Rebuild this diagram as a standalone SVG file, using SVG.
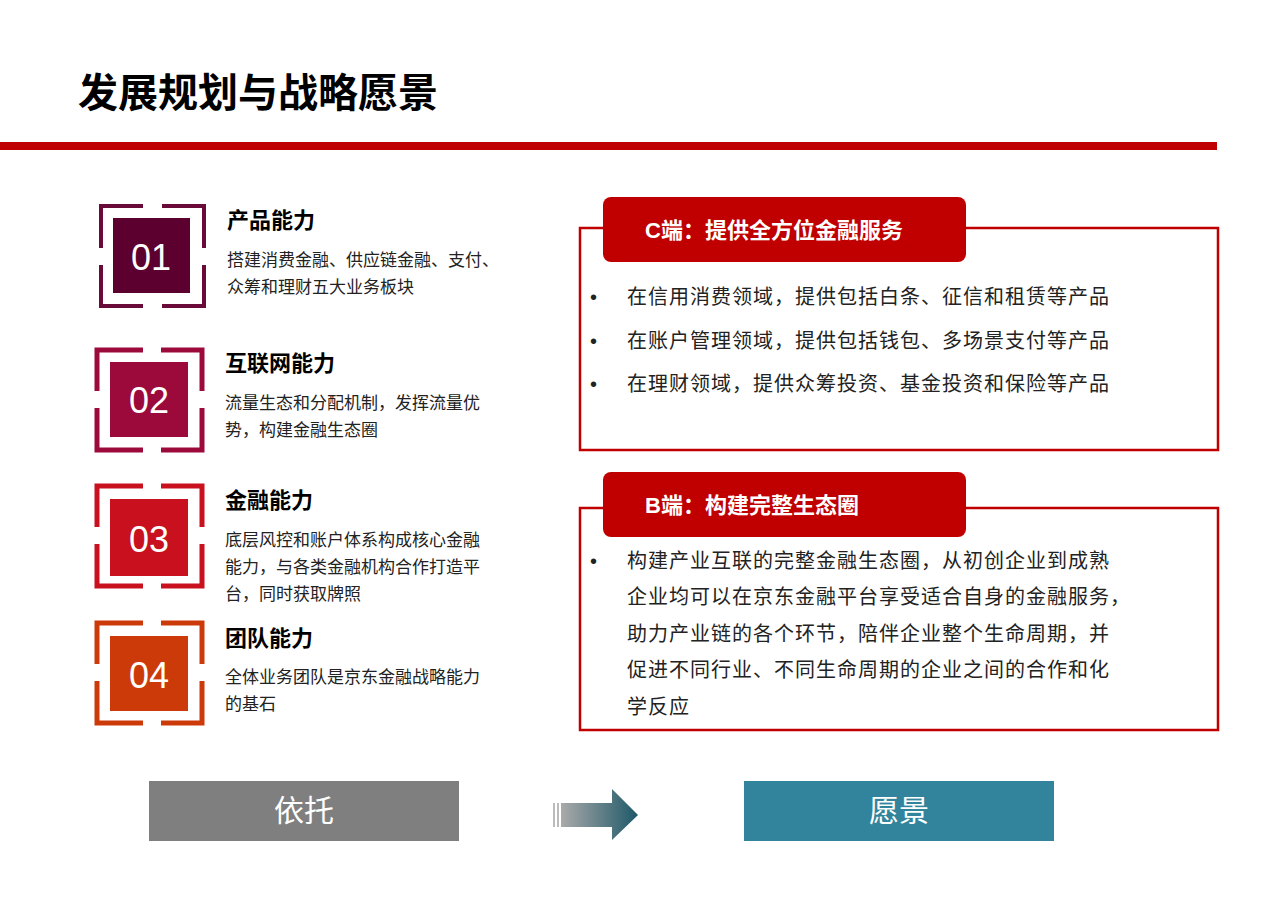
<svg xmlns="http://www.w3.org/2000/svg" width="1280" height="904" viewBox="0 0 1280 904">
<defs>
<style>
text{font-family:"Liberation Sans","Noto Sans CJK SC",sans-serif;}
.h{font-size:22px;font-weight:bold;fill:#000;}
.d{font-size:17px;fill:#222;}
.n{font-size:36px;fill:#fff;text-anchor:middle;}
.b{font-size:20px;fill:#222;letter-spacing:1px;}
.frame{fill:none;stroke:#c00000;stroke-width:2.5;}
.tab{fill:#c00000;}
.tt{font-size:22px;font-weight:bold;fill:#fff;}
</style>
<linearGradient id="ag" x1="0" x2="1" y1="0" y2="0">
<stop offset="0" stop-color="#aaaaaa"/><stop offset="1" stop-color="#1e5868"/>
</linearGradient>
</defs>
<rect width="1280" height="904" fill="#fff"/>
<text x="78" y="107" style="font-size:40px;font-weight:bold;fill:#000">发展规划与战略愿景</text>
<rect x="0" y="142" width="1217" height="8" fill="#c00000"/>

<g id="n01" stroke="#6a0a38" stroke-width="4" fill="none">
<path d="M101 248V206H143M162 206H204V248M204 265V306H162M143 306H101V265"/>
<rect x="113" y="218" width="77" height="75" fill="#5c0030" stroke="none"/>
<text class="n" x="151" y="270" stroke="none">01</text>
</g>
<g id="n02" stroke="#9b0a3a" stroke-width="5" fill="none">
<path d="M97 391V350H143M161 350H202V391M202 408V450H161M143 450H97V408"/>
<rect x="110" y="362" width="78" height="75" fill="#9b0a3a" stroke="none"/>
<text class="n" x="149" y="413" stroke="none">02</text>
</g>
<g id="n03" stroke="#c8101e" stroke-width="5" fill="none">
<path d="M97 527V486H143M161 486H202V527M202 544V586H161M143 586H97V544"/>
<rect x="110" y="499" width="78" height="77" fill="#c8101e" stroke="none"/>
<text class="n" x="149" y="552" stroke="none">03</text>
</g>
<g id="n04" stroke="#cc3a0a" stroke-width="5" fill="none">
<path d="M97 664V623H143M161 623H202V664M202 681V723H161M143 723H97V681"/>
<rect x="110" y="636" width="78" height="75" fill="#cc3a0a" stroke="none"/>
<text class="n" x="149" y="688" stroke="none">04</text>
</g>

<g id="t1"><text class="h" x="227" y="228">产品能力</text>
<text class="d" x="227" y="266">搭建消费金融、供应链金融、支付、</text>
<text class="d" x="227" y="293">众筹和理财五大业务板块</text></g>
<g id="t2"><text class="h" x="225" y="371">互联网能力</text>
<text class="d" x="225" y="409">流量生态和分配机制，发挥流量优</text>
<text class="d" x="225" y="436">势，构建金融生态圈</text></g>
<g id="t3"><text class="h" x="225" y="508">金融能力</text>
<text class="d" x="225" y="546">底层风控和账户体系构成核心金融</text>
<text class="d" x="225" y="573">能力，与各类金融机构合作打造平</text>
<text class="d" x="225" y="600">台，同时获取牌照</text></g>
<g id="t4"><text class="h" x="225" y="646">团队能力</text>
<text class="d" x="225" y="683">全体业务团队是京东金融战略能力</text>
<text class="d" x="225" y="710">的基石</text></g>

<g id="c">
<rect class="frame" x="580" y="228" width="638" height="222"/>
<rect class="tab" x="603" y="197" width="363" height="65" rx="8"/>
<text class="tt" x="645" y="238">C端：提供全方位金融服务</text>
<text class="b" x="590" y="304">•</text><text class="b" x="627" y="304">在信用消费领域，提供包括白条、征信和租赁等产品</text>
<text class="b" x="590" y="348">•</text><text class="b" x="627" y="348">在账户管理领域，提供包括钱包、多场景支付等产品</text>
<text class="b" x="590" y="391">•</text><text class="b" x="627" y="391">在理财领域，提供众筹投资、基金投资和保险等产品</text>
</g>
<g id="b">
<rect class="frame" x="580" y="508" width="638" height="222"/>
<rect class="tab" x="603" y="472" width="363" height="65" rx="8"/>
<text class="tt" x="645" y="513">B端：构建完整生态圈</text>
<text class="b" x="590" y="568">•</text><text class="b" x="627" y="568">构建产业互联的完整金融生态圈，从初创企业到成熟</text>
<text class="b" x="627" y="604">企业均可以在京东金融平台享受适合自身的金融服务，</text>
<text class="b" x="627" y="641">助力产业链的各个环节，陪伴企业整个生命周期，并</text>
<text class="b" x="627" y="677">促进不同行业、不同生命周期的企业之间的合作和化</text>
<text class="b" x="627" y="714">学反应</text>
</g>

<g id="yituo"><rect x="149" y="781" width="310" height="60" fill="#7f7f7f"/>
<text x="304" y="821" style="font-size:30px;fill:#fff;text-anchor:middle">依托</text></g>
<g id="connectors">
<rect x="553" y="803" width="2" height="24" fill="#bbb"/>
<rect x="557" y="803" width="2" height="24" fill="#bbb"/>
<path d="M561 803H612V789L638 815L612 840V827H561Z" fill="url(#ag)"/>
</g>
<g id="yuanjing"><rect x="744" y="781" width="310" height="60" fill="#31849b"/>
<text x="899" y="821" style="font-size:30px;fill:#fff;text-anchor:middle">愿景</text></g>
</svg>
